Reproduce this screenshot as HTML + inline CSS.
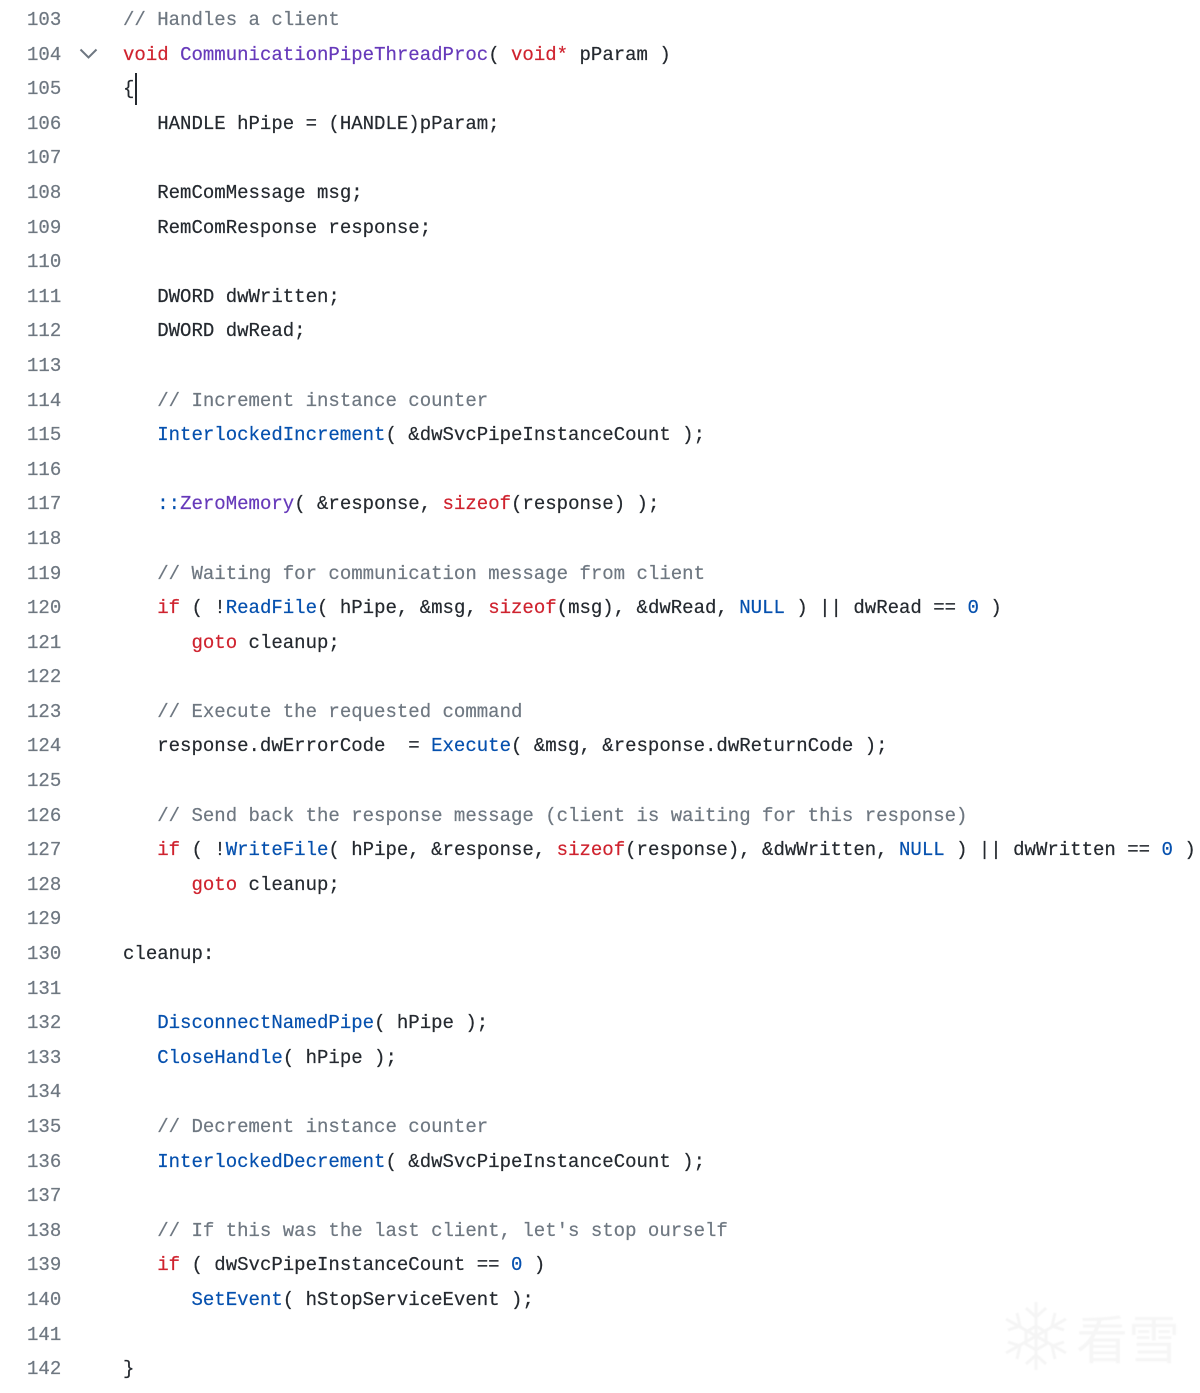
<!DOCTYPE html>
<html lang="en">
<head>
<meta charset="utf-8">
<title>Code</title>
<style>
html,body{margin:0;padding:0;background:#fff;}
body{width:1200px;height:1393px;position:relative;overflow:hidden;}
pre{margin:0;position:absolute;top:3px;font-family:"Liberation Mono","DejaVu Sans Mono",monospace;font-size:19.03px;line-height:34.59px;color:#24292f;-webkit-text-stroke:.2px currentColor;filter:blur(.35px);}
#n{left:27px;color:#6e7781;}
#c{left:123px;}
.k{color:#cf222e}.f{color:#6639ba}.b{color:#0550ae}.g{color:#6e7781}
#caret{position:absolute;left:135px;top:73px;width:2px;height:32px;background:#24292f;}
#chev{position:absolute;left:79px;top:47px;}
#wm{position:absolute;left:1000px;top:1300px;width:185px;height:75px;filter:blur(.6px);}
</style>
</head>
<body>
<pre id="n">103
104
105
106
107
108
109
110
111
112
113
114
115
116
117
118
119
120
121
122
123
124
125
126
127
128
129
130
131
132
133
134
135
136
137
138
139
140
141
142</pre>
<svg id="chev" width="20" height="14" viewBox="0 0 20 14"><path d="M1.5 2.5 L9.5 10.5 L17.5 2.5" fill="none" stroke="#6e7781" stroke-width="2"/></svg>
<div id="caret"></div>
<pre id="c"><span class="g">// Handles a client</span>
<span class="k">void</span> <span class="f">CommunicationPipeThreadProc</span>( <span class="k">void</span><span class="k">*</span> pParam )
{
   HANDLE hPipe = (HANDLE)pParam;

   RemComMessage msg;
   RemComResponse response;

   DWORD dwWritten;
   DWORD dwRead;

   <span class="g">// Increment instance counter</span>
   <span class="b">InterlockedIncrement</span>( &amp;dwSvcPipeInstanceCount );

   <span class="b">::</span><span class="f">ZeroMemory</span>( &amp;response, <span class="k">sizeof</span>(response) );

   <span class="g">// Waiting for communication message from client</span>
   <span class="k">if</span> ( !<span class="b">ReadFile</span>( hPipe, &amp;msg, <span class="k">sizeof</span>(msg), &amp;dwRead, <span class="b">NULL</span> ) || dwRead == <span class="b">0</span> )
      <span class="k">goto</span> cleanup;

   <span class="g">// Execute the requested command</span>
   response.dwErrorCode  = <span class="b">Execute</span>( &amp;msg, &amp;response.dwReturnCode );

   <span class="g">// Send back the response message (client is waiting for this response)</span>
   <span class="k">if</span> ( !<span class="b">WriteFile</span>( hPipe, &amp;response, <span class="k">sizeof</span>(response), &amp;dwWritten, <span class="b">NULL</span> ) || dwWritten == <span class="b">0</span> )
      <span class="k">goto</span> cleanup;

cleanup:

   <span class="b">DisconnectNamedPipe</span>( hPipe );
   <span class="b">CloseHandle</span>( hPipe );

   <span class="g">// Decrement instance counter</span>
   <span class="b">InterlockedDecrement</span>( &amp;dwSvcPipeInstanceCount );

   <span class="g">// If this was the last client, let's stop ourself</span>
   <span class="k">if</span> ( dwSvcPipeInstanceCount == <span class="b">0</span> )
      <span class="b">SetEvent</span>( hStopServiceEvent );

}</pre>
<svg id="wm" viewBox="0 0 185 75">
<g stroke="#f5f5f5" stroke-width="3" fill="none">
<path d="M36 2V70M6 19L66 53M6 53L66 19"/>
<path d="M36 26L46 32V44L36 50L26 44V32Z"/>
<path d="M26 8L36 17L46 8M26 64L36 55L46 64M8 30L20 26L17 13M64 42L52 46L55 59M8 42L20 46L17 59M64 30L52 26L55 13"/>
</g>
<text x="76" y="59" font-family="'Noto Sans CJK SC',sans-serif" font-size="52" fill="#f6f6f6">看雪</text>
</svg>
</body>
</html>
